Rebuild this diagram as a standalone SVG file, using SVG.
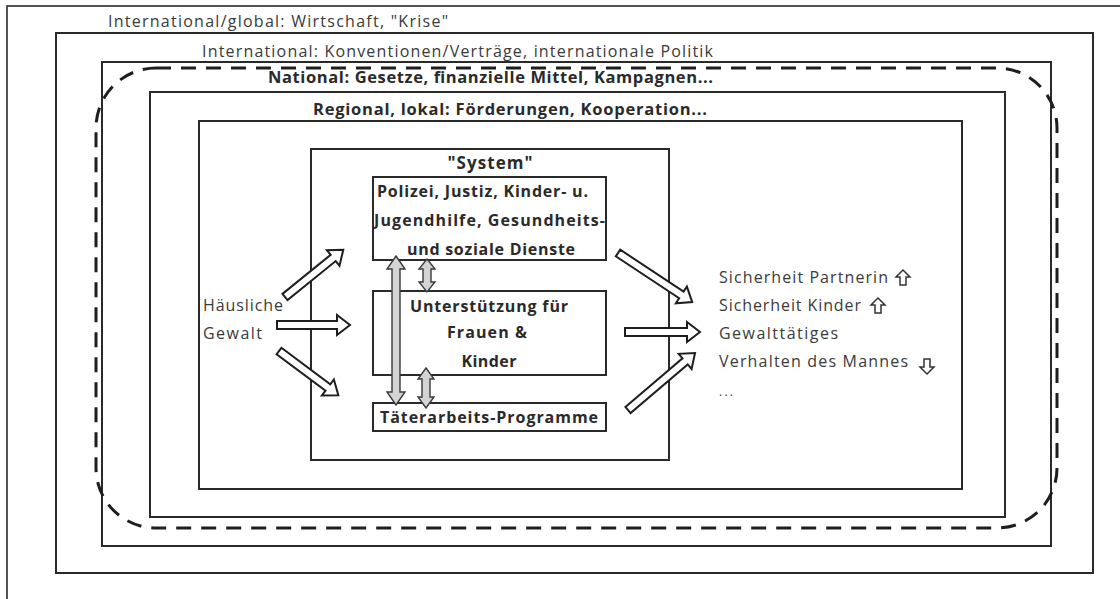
<svg xmlns="http://www.w3.org/2000/svg" width="1120" height="599" viewBox="0 0 1120 599">
<style>
.box{fill:none;stroke:#2a2a2a;stroke-width:2}
.inner{fill:#fff;stroke:#2a2a2a;stroke-width:2}
.t{font-family:"Open Sans","Noto Sans","Liberation Sans",sans-serif;font-size:16px;fill:#3a3a3a}
.b{font-family:"Open Sans","Noto Sans","Liberation Sans",sans-serif;font-size:16px;font-weight:700;fill:#2a2a2a}
.arr{fill:#fff;stroke:#1e1e1e;stroke-width:2;stroke-linejoin:miter}
.garr{fill:#d4d4d4;stroke:#3a3a3a;stroke-width:1.4}
.small{fill:#fff;stroke:#333;stroke-width:1.5}
.dash{fill:none;stroke:#1e1e1e;stroke-width:3;stroke-dasharray:15 10}
</style>
<rect width="1120" height="599" fill="#fff"/>

<g id="global">
<rect class="box" x="7" y="6" width="1130" height="620" style="stroke-width:1.6"/>
<text class="t" x="108" y="27" textLength="340" lengthAdjust="spacing">International/global: Wirtschaft, "Krise"</text>
</g>

<g id="international">
<rect class="box" x="56" y="33" width="1037" height="540"/>
<text class="t" x="202" y="57" textLength="511" lengthAdjust="spacing">International: Konventionen/Verträge, internationale Politik</text>
</g>

<g id="national">
<rect class="box" x="102" y="62" width="949" height="484"/>
<text class="b" x="268" y="83" textLength="445" lengthAdjust="spacing" style="font-size:16.5px">National: Gesetze, finanzielle Mittel, Kampagnen...</text>
</g>

<g id="dashed-boundary">
<rect class="dash" x="96" y="68" width="961" height="460" rx="60" ry="60"/>
</g>

<g id="regional">
<rect class="box" x="150" y="92" width="855" height="425"/>
<text class="b" x="313" y="115" textLength="394" lengthAdjust="spacing" style="font-size:16.5px">Regional, lokal: Förderungen, Kooperation...</text>
</g>

<g id="level5">
<rect class="box" x="199" y="121" width="763" height="368"/>
</g>

<g id="system">
<rect class="box" x="311" y="149" width="358" height="311"/>
<text class="b" x="490" y="169" text-anchor="middle" textLength="85" lengthAdjust="spacing" style="font-size:17px">"System"</text>
</g>

<g id="polizei">
<rect class="inner" x="373" y="177" width="233" height="83"/>
<text class="b" x="377" y="197" textLength="211" lengthAdjust="spacing">Polizei, Justiz, Kinder- u.</text>
<text class="b" x="374" y="226" textLength="231" lengthAdjust="spacing">Jugendhilfe, Gesundheits-</text>
<text class="b" x="407" y="255" textLength="168" lengthAdjust="spacing">und soziale Dienste</text>
</g>

<g id="unterstuetzung">
<rect class="inner" x="373" y="291" width="233" height="84"/>
<text class="b" x="410" y="312" textLength="158" lengthAdjust="spacing">Unterstützung für</text>
<text class="b" x="487" y="338" text-anchor="middle" textLength="80" lengthAdjust="spacing">Frauen &amp;</text>
<text class="b" x="489" y="367" text-anchor="middle" textLength="55" lengthAdjust="spacing">Kinder</text>
</g>

<g id="taeterarbeit">
<rect class="inner" x="373" y="403" width="233" height="28"/>
<text class="b" x="380" y="423" textLength="218" lengthAdjust="spacing">Täterarbeits-Programme</text>
</g>

<g id="haeusliche-gewalt">
<text class="t" x="203" y="311" textLength="80" lengthAdjust="spacing">Häusliche</text>
<text class="t" x="203" y="339" textLength="59" lengthAdjust="spacing">Gewalt</text>
</g>

<g id="outcomes">
<text class="t" x="719" y="283" textLength="169" lengthAdjust="spacing">Sicherheit Partnerin</text>
<text class="t" x="719" y="311" textLength="142" lengthAdjust="spacing">Sicherheit Kinder</text>
<text class="t" x="719" y="339" textLength="119" lengthAdjust="spacing">Gewalttätiges</text>
<text class="t" x="719" y="367" textLength="189" lengthAdjust="spacing">Verhalten des Mannes</text>
<text class="t" x="719" y="396" textLength="14" lengthAdjust="spacing" style="font-size:12px">...</text>
<path class="small" d="M903,270 L910,277 L906,277 L906,285 L900,285 L900,277 L896,277 Z"/>
<path class="small" d="M878,298 L885,305 L881,305 L881,313 L875,313 L875,305 L871,305 Z"/>
<path class="small" d="M927,374 L934,367 L930,367 L930,359 L924,359 L924,367 L920,367 Z"/>
</g>

<g id="connectors">
<path class="arr" transform="translate(285,297) rotate(-39)" d="M0,-4 H62 V-10 L75,0 L62,10 V4 H0 Z"/>
<path class="arr" transform="translate(277,325)" d="M0,-4 H60 V-10 L73,0 L60,10 V4 H0 Z"/>
<path class="arr" transform="translate(279,351) rotate(36.7)" d="M0,-4 H61 V-10 L74,0 L61,10 V4 H0 Z"/>
<path class="arr" transform="translate(618,253) rotate(33.5)" d="M0,-4 H76 V-10 L89,0 L76,10 V4 H0 Z"/>
<path class="arr" transform="translate(625,332)" d="M0,-4 H62 V-10 L75,0 L62,10 V4 H0 Z"/>
<path class="arr" transform="translate(628,410) rotate(-40.4)" d="M0,-4 H75 V-10 L88,0 L75,10 V4 H0 Z"/>
<path class="garr" d="M396,256 L405,269 L400,269 L400,392 L405,392 L396,405 L387,392 L392,392 L392,269 L387,269 Z"/>
<path class="garr" d="M427,259 L435,269 L431,269 L431,282 L435,282 L427,292 L419,282 L423,282 L423,269 L419,269 Z"/>
<path class="garr" d="M426,368 L434,379 L430,379 L430,397 L434,397 L426,408 L418,397 L422,397 L422,379 L418,379 Z"/>
</g>
</svg>
